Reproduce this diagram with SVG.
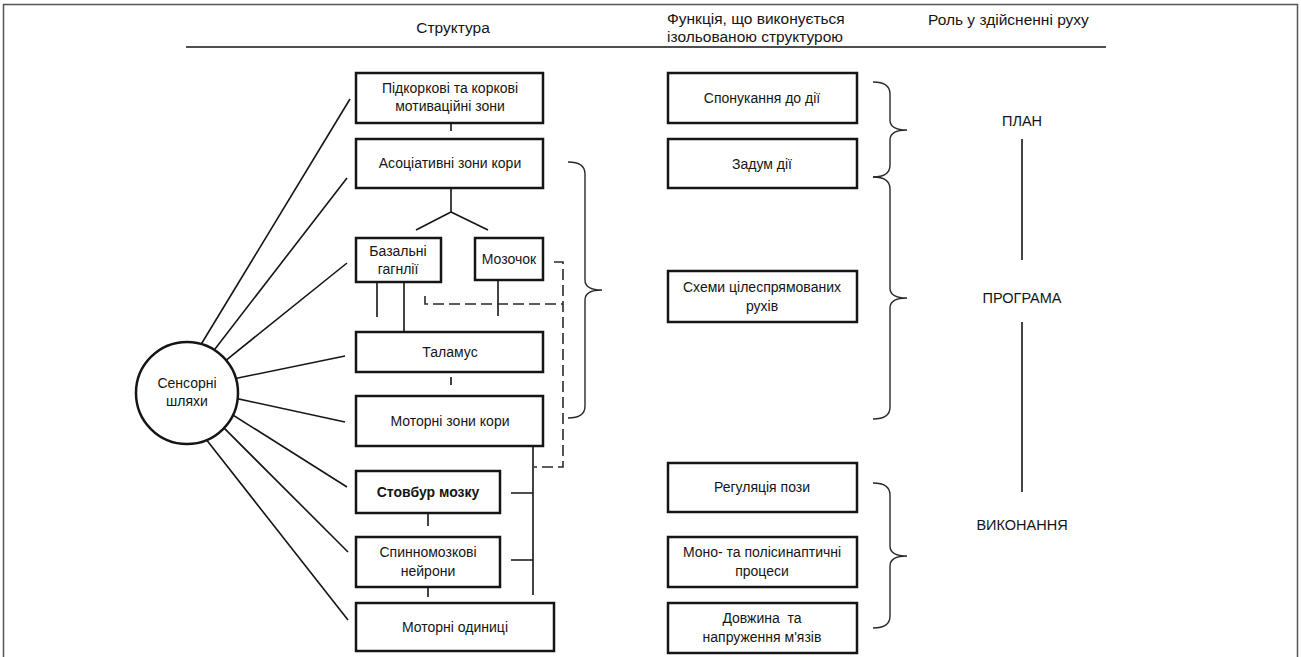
<svg xmlns="http://www.w3.org/2000/svg" width="1301" height="657" viewBox="0 0 1301 657">
<style>
text{font-family:"Liberation Sans",Arial,sans-serif;fill:#151515;font-size:14px}
.h{font-size:15.5px}
.r{font-size:14.5px}
.c{text-anchor:middle}
.box{fill:#fff;stroke:#151515;stroke-width:2.5}
.ln{stroke:#151515;stroke-width:1.6;fill:none}
.ds{stroke:#2a2a2a;stroke-width:1.6;fill:none;stroke-dasharray:11 5}
.br{stroke:#2a2a2a;stroke-width:1.4;fill:none}
</style>
<rect x="0" y="0" width="1301" height="657" fill="#fff"/>
<rect x="3.5" y="4.5" width="1294" height="660" fill="none" stroke="#555" stroke-width="1.5"/>
<g id="header">
<text class="h c" x="453" y="33">Структура</text>
<text class="h" x="667" y="24">Функція, що виконується</text>
<text class="h" x="667" y="42">ізольованою структурою</text>
<text class="h" x="928" y="25">Роль у здійсненні руху</text>
<line class="ln" x1="186" y1="47" x2="1106" y2="47" stroke-width="2"/>
</g>
<g id="connectors">
<line class="ln" x1="350" y1="99" x2="199.8" y2="346.5"/>
<line class="ln" x1="347" y1="178" x2="211.9" y2="352.9"/>
<line class="ln" x1="347" y1="263" x2="222.2" y2="363.3"/>
<line class="ln" x1="345" y1="356" x2="228.2" y2="380"/>
<line class="ln" x1="345" y1="422" x2="229.2" y2="396.9"/>
<line class="ln" x1="347" y1="487" x2="224.5" y2="409.7"/>
<line class="ln" x1="348" y1="552" x2="215.9" y2="419.9"/>
<line class="ln" x1="348" y1="620" x2="198.8" y2="430.1"/>
<line class="ln" x1="451" y1="123" x2="451" y2="131"/>
<path class="ln" d="M451,188 V212 L416,230 M451,212 L488,230"/>
<line class="ln" x1="377" y1="282" x2="377" y2="317"/>
<line class="ln" x1="404" y1="282" x2="404" y2="331"/>
<line class="ln" x1="498" y1="280" x2="498" y2="316"/>
<line class="ln" x1="451" y1="377" x2="451" y2="385"/>
<path class="ds" d="M554,262 H563 V467 H534"/>
<path class="ds" d="M425,296 V304 H563"/>
<path class="ln" d="M533,446 V595 M511,493 H533 M511,560 H533"/>
<line class="ln" x1="428" y1="514" x2="428" y2="526"/>
<line class="ln" x1="428" y1="588" x2="428" y2="597"/>
<line class="ln" x1="1022" y1="139" x2="1022" y2="260"/>
<line class="ln" x1="1022" y1="322" x2="1022" y2="492"/>
</g>
<g id="braces">
<path class="br" d="M568,162 Q585,162 585,174 V280 Q585,290 602,290 Q585,290 585,300 V406 Q585,418 568,418"/>
<path class="br" d="M873,82 Q890,82 890,94 V120 Q890,130 907,130 Q890,130 890,140 V165 Q890,177 873,177"/>
<path class="br" d="M873,177 Q890,177 890,189 V288 Q890,298 907,298 Q890,298 890,308 V407 Q890,419 873,419"/>
<path class="br" d="M873,483 Q890,483 890,495 V546 Q890,556 907,556 Q890,556 890,566 V616 Q890,628 873,628"/>
</g>
<g id="sensory">
<circle class="box" cx="187" cy="393" r="51"/>
<text class="c" x="187" y="388">Сенсорні</text>
<text class="c" x="187" y="406">шляхи</text>
</g>
<g id="motivational">
<rect class="box" x="356" y="73" width="187" height="50"/>
<text class="c" x="450" y="93">Підкоркові та коркові</text>
<text class="c" x="450" y="111">мотиваційні зони</text>
</g>
<g id="associative">
<rect class="box" x="356" y="139" width="187" height="49"/>
<text class="c" x="450" y="168">Асоціативні зони кори</text>
</g>
<g id="basal">
<rect class="box" x="356" y="238" width="85" height="44"/>
<text class="c" x="398" y="256">Базальні</text>
<text class="c" x="398" y="274">гагнлії</text>
</g>
<g id="cerebellum">
<rect class="box" x="475" y="238" width="68" height="42"/>
<text class="c" x="509" y="264">Мозочок</text>
</g>
<g id="thalamus">
<rect class="box" x="356" y="332" width="187" height="40"/>
<text class="c" x="450" y="357">Таламус</text>
</g>
<g id="motor-cortex">
<rect class="box" x="356" y="396" width="187" height="50"/>
<text class="c" x="450" y="426">Моторні зони кори</text>
</g>
<g id="brainstem">
<rect class="box" x="356" y="471" width="144" height="42"/>
<text class="c" x="428" y="497" font-weight="bold">Стовбур мозку</text>
</g>
<g id="spinal">
<rect class="box" x="356" y="537" width="144" height="50"/>
<text class="c" x="428" y="557">Спинномозкові</text>
<text class="c" x="428" y="576">нейрони</text>
</g>
<g id="motor-units">
<rect class="box" x="356" y="603" width="198" height="48"/>
<text class="c" x="455" y="632">Моторні одиниці</text>
</g>
<g id="f-urge">
<rect class="box" x="668" y="73" width="189" height="50"/>
<text class="c" x="762" y="103">Спонукання до дії</text>
</g>
<g id="f-idea">
<rect class="box" x="668" y="139" width="189" height="49"/>
<text class="c" x="762" y="169">Задум дії</text>
</g>
<g id="f-schemes">
<rect class="box" x="668" y="271" width="189" height="51"/>
<text class="c" x="762" y="292">Схеми цілеспрямованих</text>
<text class="c" x="762" y="311">рухів</text>
</g>
<g id="f-posture">
<rect class="box" x="668" y="463" width="189" height="49"/>
<text class="c" x="762" y="492">Регуляція пози</text>
</g>
<g id="f-synaptic">
<rect class="box" x="668" y="537" width="189" height="50"/>
<text class="c" x="762" y="557">Моно- та полісинаптичні</text>
<text class="c" x="762" y="576">процеси</text>
</g>
<g id="f-muscle">
<rect class="box" x="668" y="603" width="189" height="50"/>
<text class="c" x="762" y="623" xml:space="preserve">Довжина  та</text>
<text class="c" x="762" y="642">напруження м'язів</text>
</g>
<g id="roles">
<text class="r c" x="1022" y="126">ПЛАН</text>
<text class="r c" x="1022" y="303">ПРОГРАМА</text>
<text class="r c" x="1022" y="530">ВИКОНАННЯ</text>
</g>
</svg>
